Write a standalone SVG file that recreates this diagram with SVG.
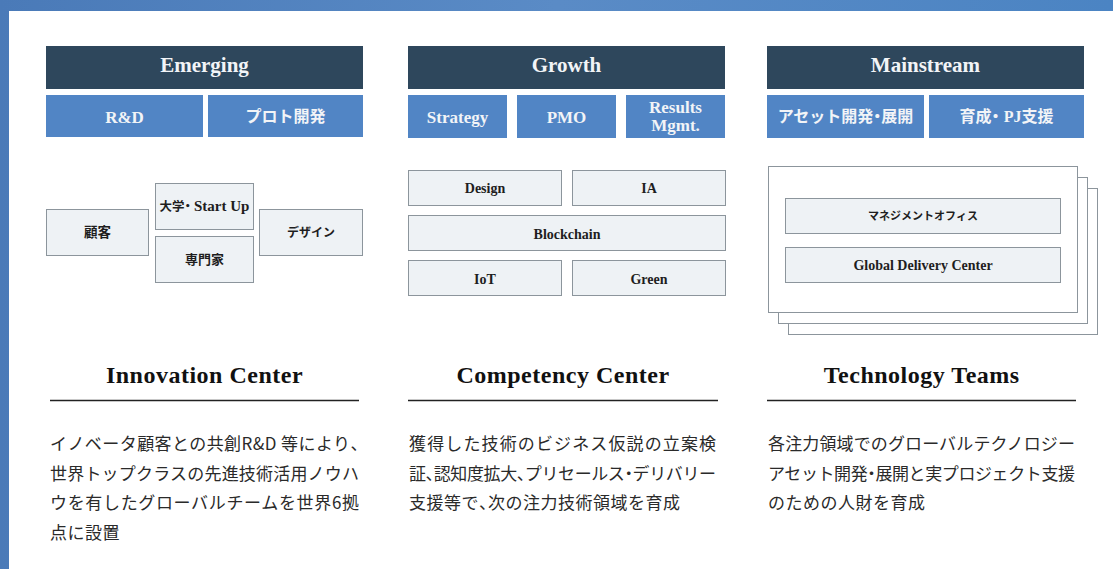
<svg xmlns="http://www.w3.org/2000/svg" width="1113" height="569" viewBox="0 0 1113 569">
<defs>
<linearGradient id="bg" x1="0" y1="0" x2="1" y2="0">
<stop offset="0" stop-color="#4a7ab8"/>
<stop offset="0.5" stop-color="#5a8bc6"/>
<stop offset="1" stop-color="#4b84c3"/>
</linearGradient>
<style>
.hdr{fill:#2e475c}
.sub{fill:#5185c5}
.box{fill:#eef2f5;stroke:#8c959c;stroke-width:1}
.card{fill:#fff;stroke:#8c959c;stroke-width:1}
.ht{font-family:"Liberation Serif","Noto Sans CJK JP",serif;font-weight:bold;fill:#f2f4f7;text-anchor:middle}
.h1{font-size:21px}
.h2{font-size:17px}
.h3{font-size:16px}
.bt{font-family:"Liberation Serif","Noto Sans CJK JP",serif;font-weight:bold;fill:#1e1e1e;text-anchor:middle;font-size:14px}
.title{font-family:"Liberation Serif",serif;font-weight:bold;font-size:24px;letter-spacing:0.5px;fill:#111;text-anchor:middle}
.rule{stroke:#222;stroke-width:1.3}
.body{font-family:"Noto Sans CJK JP",sans-serif;font-size:17px;fill:#2a2a2a}
.nat{letter-spacing:0.5px}
.h{font-feature-settings:"halt"}
</style>
</defs>
<rect x="0" y="0" width="1113" height="569" fill="url(#bg)"/>
<rect x="9" y="11" width="1104" height="558" fill="#fff"/>

<g id="emerging">
<rect class="hdr" x="46" y="46" width="317" height="43"/>
<text class="ht h1" x="204.5" y="72">Emerging</text>
</g>
<g id="rnd">
<rect class="sub" x="46" y="95" width="157" height="42"/>
<text class="ht h2" x="124.5" y="123">R&amp;D</text>
</g>
<g id="proto">
<rect class="sub" x="208" y="95" width="155" height="42"/>
<text class="ht h3" x="285.5" y="122">プロト開発</text>
</g>

<g id="growth">
<rect class="hdr" x="408" y="46" width="317" height="43"/>
<text class="ht h1" x="566.5" y="72">Growth</text>
</g>
<g id="strategy">
<rect class="sub" x="408" y="95" width="99" height="43"/>
<text class="ht h2" x="457.5" y="123">Strategy</text>
</g>
<g id="pmo">
<rect class="sub" x="517" y="95" width="99" height="43"/>
<text class="ht h2" x="566.5" y="123">PMO</text>
</g>
<g id="results">
<rect class="sub" x="626" y="95" width="99" height="43"/>
<text class="ht h2" x="675.5" y="113">Results</text>
<text class="ht h2" x="675.5" y="131">Mgmt.</text>
</g>

<g id="mainstream">
<rect class="hdr" x="767" y="46" width="317" height="43"/>
<text class="ht h1" x="925.5" y="72">Mainstream</text>
</g>
<g id="asset">
<rect class="sub" x="767" y="95" width="157" height="43"/>
<text class="ht h3" x="845.5" y="122">アセット開発<tspan class="h">・</tspan>展開</text>
</g>
<g id="ikusei">
<rect class="sub" x="929" y="95" width="155" height="43"/>
<text class="ht h3" x="1006.5" y="122">育成<tspan class="h">・</tspan> PJ支援</text>
</g>

<g id="kokyaku">
<rect class="box" x="46.5" y="209.5" width="102" height="46"/>
<text class="bt" x="97.5" y="237" style="font-size:13.5px">顧客</text>
</g>
<g id="daigaku">
<rect class="box" x="155.5" y="183.5" width="98" height="46"/>
<text class="bt" x="204.5" y="211" style="font-size:12.5px">大学<tspan class="h">・</tspan> <tspan style="font-size:15px">Start Up</tspan></text>
</g>
<g id="senmonka">
<rect class="box" x="155.5" y="236.5" width="98" height="46"/>
<text class="bt" x="204.5" y="264" style="font-size:13px">専門家</text>
</g>
<g id="design-jp">
<rect class="box" x="259.5" y="209.5" width="103" height="46"/>
<text class="bt" x="311" y="237" style="font-size:12px">デザイン</text>
</g>

<g id="design">
<rect class="box" x="408.5" y="170.5" width="153" height="35"/>
<text class="bt" x="485" y="192.5">Design</text>
</g>
<g id="ia">
<rect class="box" x="572.5" y="170.5" width="153" height="35"/>
<text class="bt" x="649" y="192.5">IA</text>
</g>
<g id="blockchain">
<rect class="box" x="408.5" y="215.5" width="317" height="35"/>
<text class="bt" x="567" y="238.5">Blockchain</text>
</g>
<g id="iot">
<rect class="box" x="408.5" y="260.5" width="153" height="35"/>
<text class="bt" x="485" y="283.5">IoT</text>
</g>
<g id="green">
<rect class="box" x="572.5" y="260.5" width="153" height="35"/>
<text class="bt" x="649" y="283.5">Green</text>
</g>

<g id="teams">
<rect class="card" x="788.5" y="188.5" width="309" height="146"/>
<rect class="card" x="778.5" y="177.5" width="309" height="146"/>
<rect class="card" x="768.5" y="166.5" width="309" height="146"/>
</g>
<g id="mgmt-office">
<rect class="box" x="785.5" y="198.5" width="275" height="35"/>
<text class="bt" x="923" y="220" style="font-size:11px">マネジメントオフィス</text>
</g>
<g id="gdc">
<rect class="box" x="785.5" y="247.5" width="275" height="35"/>
<text class="bt" x="923" y="270">Global Delivery Center</text>
</g>

<g id="innovation-center">
<text class="title" x="204.5" y="383">Innovation Center</text>
<line class="rule" x1="50" y1="400.5" x2="359" y2="400.5"/>
<text class="body" x="50" y="450" textLength="309" lengthAdjust="spacing">イノベータ顧客との共創R&amp;D 等により<tspan class="h">、</tspan></text>
<text class="body" x="50" y="479.5" textLength="309" lengthAdjust="spacing">世界トップクラスの先進技術活用ノウハ</text>
<text class="body" x="50" y="509" textLength="309" lengthAdjust="spacing">ウを有したグローバルチームを世界6拠</text>
<text class="body nat" x="50" y="538.5">点に設置</text>
</g>

<g id="competency-center">
<text class="title" x="563" y="383">Competency Center</text>
<line class="rule" x1="408" y1="400.5" x2="718" y2="400.5"/>
<text class="body" x="409" y="450" textLength="307" lengthAdjust="spacing">獲得した技術のビジネス仮説の立案検</text>
<text class="body" x="409" y="479.5" textLength="307" lengthAdjust="spacing">証<tspan class="h">、</tspan>認知度拡大<tspan class="h">、</tspan>プリセールス<tspan class="h">・</tspan>デリバリー</text>
<text class="body nat" x="409" y="509">支援等で<tspan class="h">、</tspan>次の注力技術領域を育成</text>
</g>

<g id="technology-teams">
<text class="title" x="921.7" y="383">Technology Teams</text>
<line class="rule" x1="767" y1="400.5" x2="1076" y2="400.5"/>
<text class="body" x="768" y="450" textLength="307" lengthAdjust="spacing">各注力領域でのグローバルテクノロジー</text>
<text class="body" x="768" y="479.5" textLength="307" lengthAdjust="spacing">アセット開発<tspan class="h">・</tspan>展開と実プロジェクト支援</text>
<text class="body nat" x="768" y="509">のための人財を育成</text>
</g>

<g id="connectors"></g>
</svg>
